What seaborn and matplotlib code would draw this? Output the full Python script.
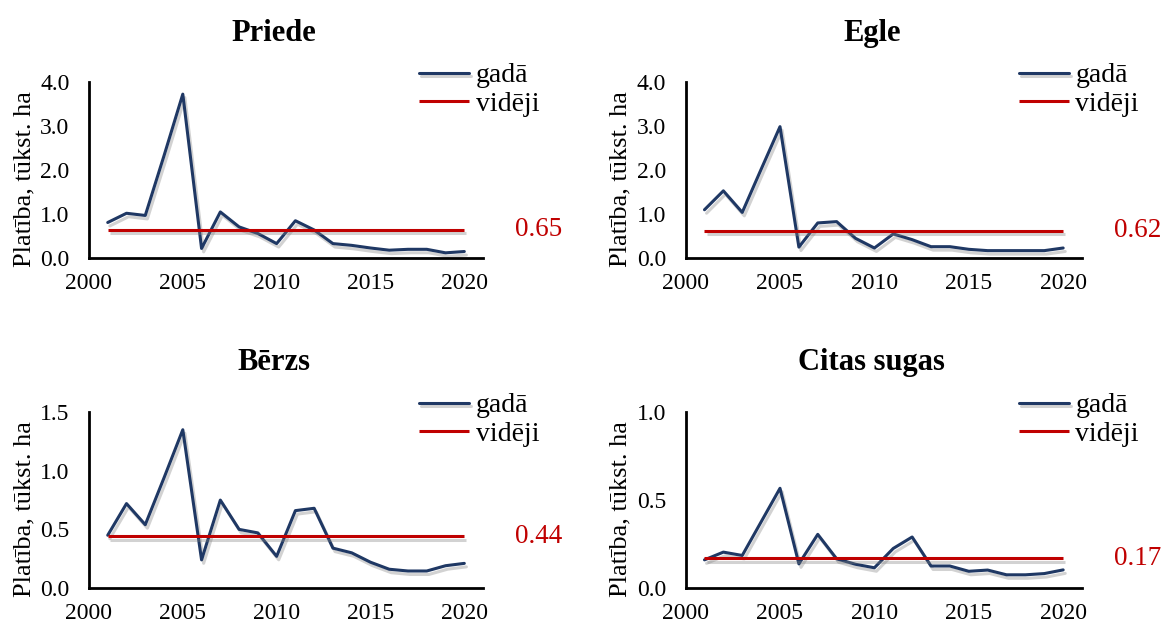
import numpy as np
import matplotlib
matplotlib.use('Agg')
import matplotlib.pyplot as plt
import matplotlib.patheffects as pe
from matplotlib.ticker import FormatStrFormatter, MultipleLocator
import seaborn as sns

years = list(range(2001, 2021))

priede = [0.81, 1.02, 0.97, 2.33, 3.73, 0.22, 1.05, 0.71, 0.56, 0.33,
          0.85, 0.64, 0.33, 0.29, 0.23, 0.18, 0.20, 0.20, 0.12, 0.15]
egle = [1.10, 1.53, 1.04, 2.02, 2.99, 0.25, 0.80, 0.83, 0.45, 0.23,
        0.55, 0.42, 0.26, 0.26, 0.20, 0.17, 0.17, 0.17, 0.17, 0.23]
berzs = [0.45, 0.72, 0.54, 0.94, 1.35, 0.24, 0.75, 0.50, 0.47, 0.27,
         0.66, 0.68, 0.34, 0.30, 0.22, 0.16, 0.145, 0.145, 0.19, 0.21]
citas = [0.16, 0.204, 0.185, 0.376, 0.567, 0.137, 0.305, 0.166, 0.135, 0.115,
         0.225, 0.29, 0.125, 0.125, 0.095, 0.102, 0.075, 0.075, 0.082, 0.103]

titles = ['Priede', 'Egle', 'Bērzs', 'Citas sugas']
averages = [0.65, 0.62, 0.44, 0.17]
y_max = [4.0, 4.0, 1.5, 1.0]
y_step = [1.0, 1.0, 0.5, 0.5]
series = [priede, egle, berzs, citas]

blue = '#1f3864'
red = '#c00000'

sns.set_theme(style='white')
plt.rcParams['font.family'] = ['Liberation Serif', 'DejaVu Serif']
plt.rcParams['text.color'] = 'black'

fig = plt.figure(figsize=(11.66, 6.28), dpi=100)
# axes boxes in figure fractions (left, bottom, width, height)
boxes = [
    (0.0763, 0.589, 0.338, 0.280),
    (0.588, 0.589, 0.340, 0.280),
    (0.0763, 0.0637, 0.338, 0.280),
    (0.588, 0.0637, 0.340, 0.280),
]

shadow = [pe.SimpleLineShadow(offset=(1.5, -2.5), shadow_color='gray', alpha=0.35), pe.Normal()]

for box, title, values, avg, ymax, ystep in zip(boxes, titles, series, averages, y_max, y_step):
    ax = fig.add_axes(box)
    sns.lineplot(x=years, y=values, ax=ax, color=blue, linewidth=2.2, label='gadā',
                 path_effects=shadow)
    ax.hlines(avg, years[0], years[-1], color=red, linewidth=2.2, label='vidēji',
              path_effects=shadow)
    ax.text(years[-1] + 2.7, avg, f'{avg:.2f}', color=red, fontsize=19.5,
            ha='left', va='center', clip_on=False)

    ax.set_xlim(2000, 2021)
    ax.set_ylim(0, ymax)
    ax.xaxis.set_major_locator(MultipleLocator(5))
    ax.yaxis.set_major_locator(MultipleLocator(ystep))
    ax.yaxis.set_major_formatter(FormatStrFormatter('%.1f'))
    ax.tick_params(axis='both', length=0, labelsize=17, colors='black')
    ax.tick_params(axis='x', pad=11)
    ax.tick_params(axis='y', pad=14)
    ax.set_title(title, fontsize=22, fontweight='bold', pad=30, color='black', x=0.47)
    ax.set_ylabel('Platība, tūkst. ha', fontsize=19, color='black')
    ax.yaxis.set_label_coords(-0.137, 0.45)
    ax.set_xlabel('')
    sns.despine(ax=ax)
    for side in ['left', 'bottom']:
        ax.spines[side].set_color('black')
        ax.spines[side].set_linewidth(2)
    ax.legend(loc='upper right', bbox_to_anchor=(1.172, 1.173), frameon=False,
              fontsize=20, handlelength=1.8, handletextpad=0.25, labelspacing=0.1,
              borderaxespad=0)

fig.savefig('out.png', dpi=100)
